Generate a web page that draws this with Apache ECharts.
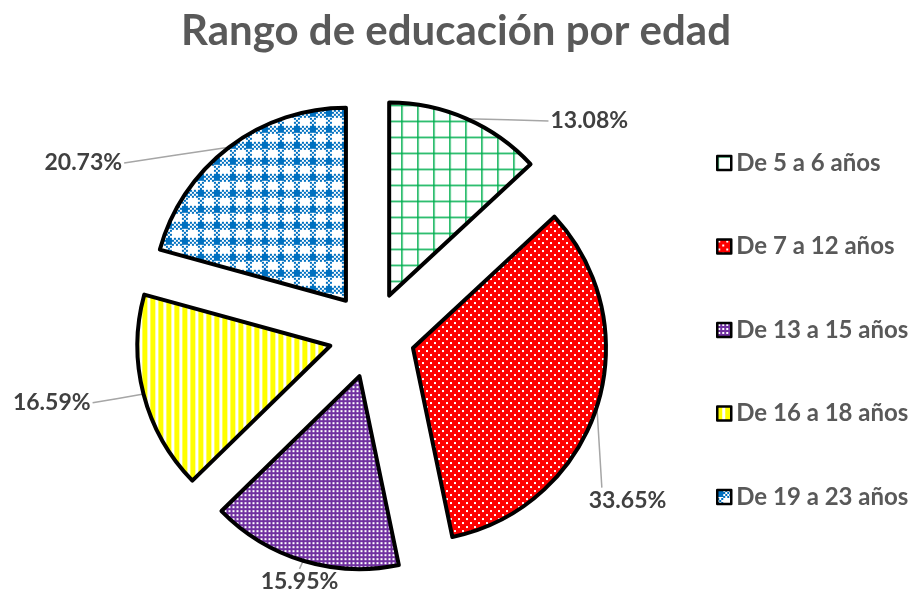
<!DOCTYPE html>
<html><head><meta charset="utf-8">
<script src="https://cdn.jsdelivr.net/npm/echarts@6/dist/echarts.min.js"></script>
<style>html,body{margin:0;padding:0;background:#fff}#c{width:917px;height:613px}</style>
</head><body><div id="c"></div>
<script>
// ---- data ----
const title = 'Rango de educación por edad';
const categories = ['De 5 a 6 años', 'De 7 a 12 años', 'De 13 a 15 años', 'De 16 a 18 años', 'De 19 a 23 años'];
const values = [13.08, 33.65, 15.95, 16.59, 20.73];

// ---- styles (patterns) ----
function makePattern(w, h, draw) {
  const c = document.createElement('canvas');
  c.width = w; c.height = h;
  const g = c.getContext('2d');
  draw(g, w, h);
  return { image: c, repeat: 'repeat' };
}
const patterns = [
  makePattern(16, 16, (g) => { g.fillStyle = '#fff'; g.fillRect(0,0,16,16); g.fillStyle = '#00B050'; g.fillRect(0,0,16,1.5); g.fillRect(0,0,1.5,16); }),
  makePattern(8, 8, (g) => { g.fillStyle = '#FF0000'; g.fillRect(0,0,8,8); g.fillStyle = '#fff'; g.fillRect(1,1,2,2); g.fillRect(5,5,2,2); }),
  makePattern(4, 4, (g) => { g.fillStyle = '#7030A0'; g.fillRect(0,0,4,4); g.fillStyle = '#fff'; g.fillRect(1,1,2,2); }),
  makePattern(8, 8, (g) => { g.fillStyle = '#fff'; g.fillRect(0,0,8,8); g.fillStyle = '#FFFF00'; g.fillRect(0,0,5,8); }),
  makePattern(16, 16, (g) => {
    g.fillStyle = '#fff'; g.fillRect(0,0,16,16);
    g.fillStyle = '#0070C0';
    g.fillRect(0,0,6,7);
    for (let y = 0; y < 7; y += 2) for (let x = 6; x < 16; x += 2) if (((x + y) / 2) % 2 === 0) g.fillRect(x, y, 2, 2);
    for (let y = 8; y < 16; y += 2) for (let x = 0; x < 6; x += 2) if (((x + y) / 2) % 2 === 0) g.fillRect(x, y, 2, 2);
  })
];
// label line styling per slice: [length, length2, dx, dy, lineEnd side, fraction along label for 'top']
const labelTweaks = [
  [3, 78, 0, 5, 'left', 0],
  [5, 5, -23, 92, 'top', 0.17],
  [10, 0, 43, 11, 'top', 0.5],
  [3, 40, -5, 8, 'right', 0],
  [3, 95, -5, 18, 'right', 0]
];

const chart = echarts.init(document.getElementById('c'), null, { renderer: 'canvas' });
const fontFamily = 'Lato, "Open Sans", sans-serif';
const guide = { color: '#A6A6A6', width: 1.5 };
chart.setOption({
  animation: false,
  backgroundColor: '#fff',
  title: {
    text: title, left: 176, top: 5,
    textStyle: { fontFamily, fontWeight: 'bold', fontSize: 42, color: '#595959' }
  },
  legend: {
    orient: 'vertical', left: 711, top: 146,
    itemWidth: 14, itemHeight: 14, itemGap: 59.5,
    icon: 'rect',
    itemStyle: { borderColor: '#000', borderWidth: 2.5 },
    textStyle: { fontFamily, fontWeight: 'bold', fontSize: 24, color: '#595959', lineHeight: 20 },
    selectedMode: false,
    data: categories
  },
  series: [{
    type: 'pie',
    center: [372, 335],
    radius: [0, 193],
    startAngle: 90,
    clockwise: true,
    selectedMode: 'multiple',
    selectedOffset: 43,
    emphasis: { disabled: true },
    itemStyle: { borderColor: '#000', borderWidth: 4 },
    select: {
      itemStyle: { borderColor: '#000', borderWidth: 4 },
      label: { color: '#404040' },
      labelLine: { lineStyle: guide }
    },
    label: {
      show: true, position: 'outside', formatter: '{c}%',
      fontFamily, fontWeight: 'bold', fontSize: 23, color: '#404040'
    },
    labelLine: { show: true, lineStyle: guide },
    labelLayout: function (p) {
      const t = labelTweaks[p.dataIndex];
      const r = p.labelRect;
      const x = r.x + t[2], y = r.y + t[3];
      const start = p.labelLinePoints ? p.labelLinePoints[0] : [x, y];
      let end;
      if (t[4] === 'left') end = [x - 2, y + r.height / 2];
      else if (t[4] === 'right') end = [x + r.width + 2, y + r.height / 2];
      else end = [x + r.width * t[5], y - 1];
      const mid = [(start[0] + end[0]) / 2, (start[1] + end[1]) / 2];
      return { dx: t[2], dy: t[3], labelLinePoints: [start, mid, end] };
    },
    data: categories.map((name, i) => ({
      name, value: values[i], selected: true,
      itemStyle: { color: patterns[i] },
      labelLine: { length: labelTweaks[i][0], length2: labelTweaks[i][1] }
    }))
  }]
});
</script>
</body></html>
